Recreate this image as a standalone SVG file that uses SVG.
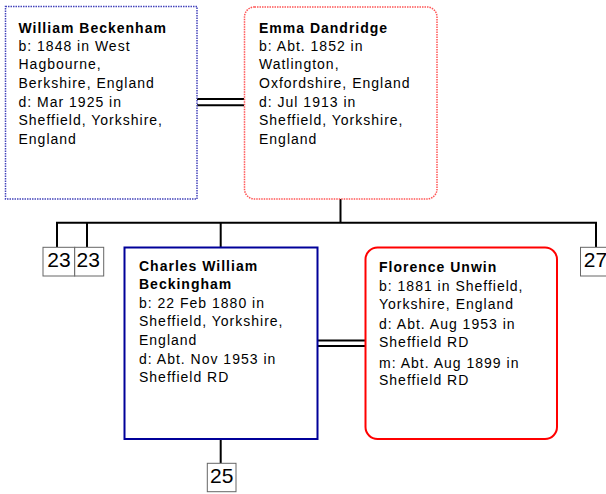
<svg xmlns="http://www.w3.org/2000/svg" width="606" height="494" viewBox="0 0 606 494">
<style>
.t{font-family:"Liberation Sans",Arial,sans-serif;font-size:14px;letter-spacing:1px;fill:#000}
.b{font-weight:bold}
.n{font-family:"Liberation Sans",Arial,sans-serif;font-size:21px;fill:#000;text-anchor:middle}
.c{stroke:#000;stroke-width:2;fill:none}
.ref{fill:#fff;stroke:#666;stroke-width:1}
</style>
<rect width="606" height="494" fill="#fff"/>
<g id="connectors">
<line class="c" x1="197" y1="99" x2="244" y2="99"/>
<line class="c" x1="197" y1="105.3" x2="244" y2="105.3"/>
<line class="c" x1="340.5" y1="199" x2="340.5" y2="222.7"/>
<line class="c" x1="56" y1="222.7" x2="597" y2="222.7"/>
<line class="c" x1="57" y1="222" x2="57" y2="247"/>
<line class="c" x1="87" y1="222" x2="87" y2="247"/>
<line class="c" x1="220.7" y1="222" x2="220.7" y2="247"/>
<line class="c" x1="596" y1="222" x2="596" y2="247"/>
<line class="c" x1="317" y1="340.5" x2="365" y2="340.5"/>
<line class="c" x1="317" y1="346" x2="365" y2="346"/>
<line class="c" x1="220.7" y1="439" x2="220.7" y2="463"/>
</g>
<g id="william">
<rect x="5.5" y="6.5" width="191.5" height="192.5" fill="#fff" stroke="#4444bb" stroke-width="1.5" stroke-dasharray="1.5,1"/>
<text class="t b" x="18.5" y="32.5">William Beckenham</text>
<text class="t" x="18.5" y="51">b: 1848 in West</text>
<text class="t" x="18.5" y="69.3">Hagbourne,</text>
<text class="t" x="18.5" y="87.8">Berkshire, England</text>
<text class="t" x="18.5" y="106.7">d: Mar 1925 in</text>
<text class="t" x="18.5" y="125">Sheffield, Yorkshire,</text>
<text class="t" x="18.5" y="143.5">England</text>
</g>
<g id="emma">
<rect x="244.5" y="7" width="192.5" height="192" rx="10" fill="#fff" stroke="#ff5555" stroke-width="1.5" stroke-dasharray="1.5,1"/>
<text class="t b" x="259" y="32.5">Emma Dandridge</text>
<text class="t" x="259" y="51">b: Abt. 1852 in</text>
<text class="t" x="259" y="69.3">Watlington,</text>
<text class="t" x="259" y="87.8">Oxfordshire, England</text>
<text class="t" x="259" y="106.7">d: Jul 1913 in</text>
<text class="t" x="259" y="125">Sheffield, Yorkshire,</text>
<text class="t" x="259" y="143.5">England</text>
</g>
<g id="ref23a">
<rect class="ref" x="43" y="247.3" width="31.7" height="28.7"/>
<text class="n" x="59" y="266.7">23</text>
</g>
<g id="ref23b">
<rect class="ref" x="74.7" y="247.3" width="29" height="28.7"/>
<text class="n" x="88.2" y="266.7">23</text>
</g>
<g id="ref27">
<rect class="ref" x="580.5" y="247.3" width="31" height="28.7"/>
<text class="n" x="595.5" y="266.7">27</text>
</g>
<g id="charles">
<rect x="124.5" y="247.5" width="193" height="191.5" fill="#fff" stroke="#000099" stroke-width="2"/>
<text class="t b" x="139" y="271">Charles William</text>
<text class="t b" x="139" y="289">Beckingham</text>
<text class="t" x="139" y="307.5">b: 22 Feb 1880 in</text>
<text class="t" x="139" y="326">Sheffield, Yorkshire,</text>
<text class="t" x="139" y="344.5">England</text>
<text class="t" x="139" y="363.5">d: Abt. Nov 1953 in</text>
<text class="t" x="139" y="382">Sheffield RD</text>
</g>
<g id="florence">
<rect x="365.5" y="247.5" width="191.5" height="191.5" rx="12" fill="#fff" stroke="#ff0000" stroke-width="2"/>
<text class="t b" x="379" y="271.5">Florence Unwin</text>
<text class="t" x="379" y="290.5">b: 1881 in Sheffield,</text>
<text class="t" x="379" y="308.5">Yorkshire, England</text>
<text class="t" x="379" y="329">d: Abt. Aug 1953 in</text>
<text class="t" x="379" y="347">Sheffield RD</text>
<text class="t" x="379" y="367.5">m: Abt. Aug 1899 in</text>
<text class="t" x="379" y="385">Sheffield RD</text>
</g>
<g id="ref25">
<rect class="ref" x="207.3" y="463.3" width="28.7" height="28.4"/>
<text class="n" x="221.7" y="482.5">25</text>
</g>
</svg>
